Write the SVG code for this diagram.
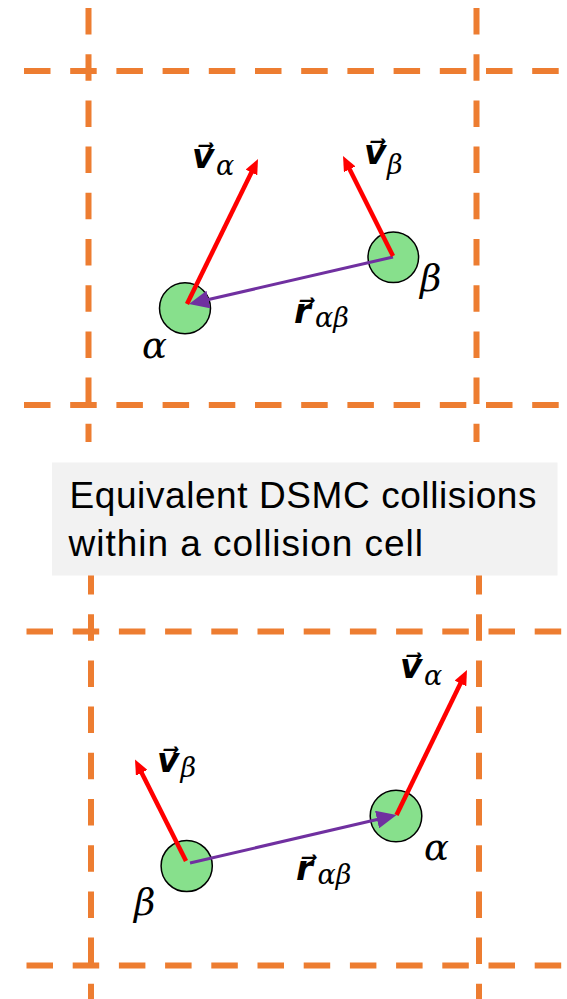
<svg xmlns="http://www.w3.org/2000/svg" width="567" height="999" viewBox="0 0 567 999">
<defs>
<style>
.grid{stroke:#ED7D31;stroke-width:6;stroke-dasharray:26.5 19.7;fill:none}
.part{fill:#87E08C;stroke:#000;stroke-width:1.5}
.vel{stroke:#FF0000;stroke-width:4.5;fill:none}
.rel{stroke:#7030A0;stroke-width:3;fill:none}
.math{font-family:"DejaVu Serif",serif;fill:#000}
.vb{font-family:"DejaVu Serif","DejaVu Sans",serif;font-weight:bold;font-style:italic;font-size:34px}
.sub{font-family:"DejaVu Serif",serif;font-style:italic;font-weight:normal;font-size:27px}
.lab{font-family:"DejaVu Serif",serif;font-style:italic;font-size:37px;fill:#000}
.cap{font-family:"Liberation Sans",Arial,sans-serif;font-size:37px;fill:#000}
</style>
<marker id="redHead" markerUnits="userSpaceOnUse" markerWidth="15" markerHeight="13" refX="5" refY="6.5" orient="auto">
<path d="M0,0 L15,6.5 L0,13 z" fill="#FF0000"/>
</marker>
<marker id="purpleHead" markerUnits="userSpaceOnUse" markerWidth="20" markerHeight="18" refX="10" refY="9" orient="auto">
<path d="M0,0 L20,9 L0,18 z" fill="#7030A0"/>
</marker>
</defs>
<rect width="567" height="999" fill="#FFFFFF"/>

<g id="grid-top">
<line class="grid" x1="24" y1="71" x2="560" y2="71"/>
<line class="grid" x1="24" y1="405" x2="560" y2="405"/>
<line class="grid" x1="88.5" y1="8" x2="88.5" y2="442"/>
<line class="grid" x1="476.5" y1="8" x2="476.5" y2="442"/>
</g>
<g id="grid-bottom">
<line class="grid" x1="26.5" y1="631.5" x2="567" y2="631.5"/>
<line class="grid" x1="26.5" y1="965.5" x2="567" y2="965.5"/>
<line class="grid" x1="91" y1="568" x2="91" y2="999"/>
<line class="grid" x1="479" y1="568" x2="479" y2="999"/>
</g>

<g id="caption">
<rect x="52" y="462.5" width="505.5" height="113" fill="#F2F2F2"/>
<text class="cap" x="69.5" y="508" textLength="467" lengthAdjust="spacing">Equivalent DSMC collisions</text>
<text class="cap" x="68.5" y="555.5" textLength="354.5" lengthAdjust="spacing">within a collision cell</text>
</g>

<g id="top-alpha">
<circle class="part" cx="185" cy="308.3" r="25.5"/>
<text class="lab" x="142" y="358">α</text>
</g>
<g id="top-beta">
<circle class="part" cx="393.3" cy="257.3" r="25.3"/>
<text class="lab" x="420" y="291">β</text>
</g>
<g id="bottom-beta">
<circle class="part" cx="186.7" cy="866" r="25.6"/>
<text class="lab" x="134" y="915">β</text>
</g>
<g id="bottom-alpha">
<circle class="part" cx="396" cy="816" r="25.8"/>
<text class="lab" x="424" y="860">α</text>
</g>

<g id="connectors">
<line class="rel" x1="393" y1="257" x2="198.7" y2="301.8" marker-end="url(#purpleHead)"/>
<line class="vel" x1="187" y1="304" x2="253.6" y2="168" marker-end="url(#redHead)"/>
<line class="vel" x1="393" y1="256" x2="347.5" y2="164.9" marker-end="url(#redHead)"/>
<line class="rel" x1="190" y1="863" x2="386.8" y2="817.3" marker-end="url(#purpleHead)"/>
<line class="vel" x1="396.5" y1="815" x2="462.6" y2="679" marker-end="url(#redHead)"/>
<line class="vel" x1="186" y1="861" x2="139.5" y2="768.4" marker-end="url(#redHead)"/>
</g>

<g id="label-top-va">
<text class="math"><tspan class="vb" x="192" y="168">v⃗</tspan><tspan class="sub" x="216" y="175">α</tspan></text>
</g>
<g id="label-top-vb">
<text class="math"><tspan class="vb" x="364" y="163.5">v⃗</tspan><tspan class="sub" x="387" y="174">β</tspan></text>
</g>
<g id="label-top-r">
<text class="math"><tspan class="vb" x="294" y="323">r⃗</tspan><tspan class="sub" x="315" y="327">αβ</tspan></text>
</g>
<g id="label-bottom-vb">
<text class="math"><tspan class="vb" x="157" y="771.5">v⃗</tspan><tspan class="sub" x="180.5" y="777">β</tspan></text>
</g>
<g id="label-bottom-va">
<text class="math"><tspan class="vb" x="400" y="678">v⃗</tspan><tspan class="sub" x="424" y="685">α</tspan></text>
</g>
<g id="label-bottom-r">
<text class="math"><tspan class="vb" x="296" y="880">r⃗</tspan><tspan class="sub" x="317.5" y="884">αβ</tspan></text>
</g>
</svg>
